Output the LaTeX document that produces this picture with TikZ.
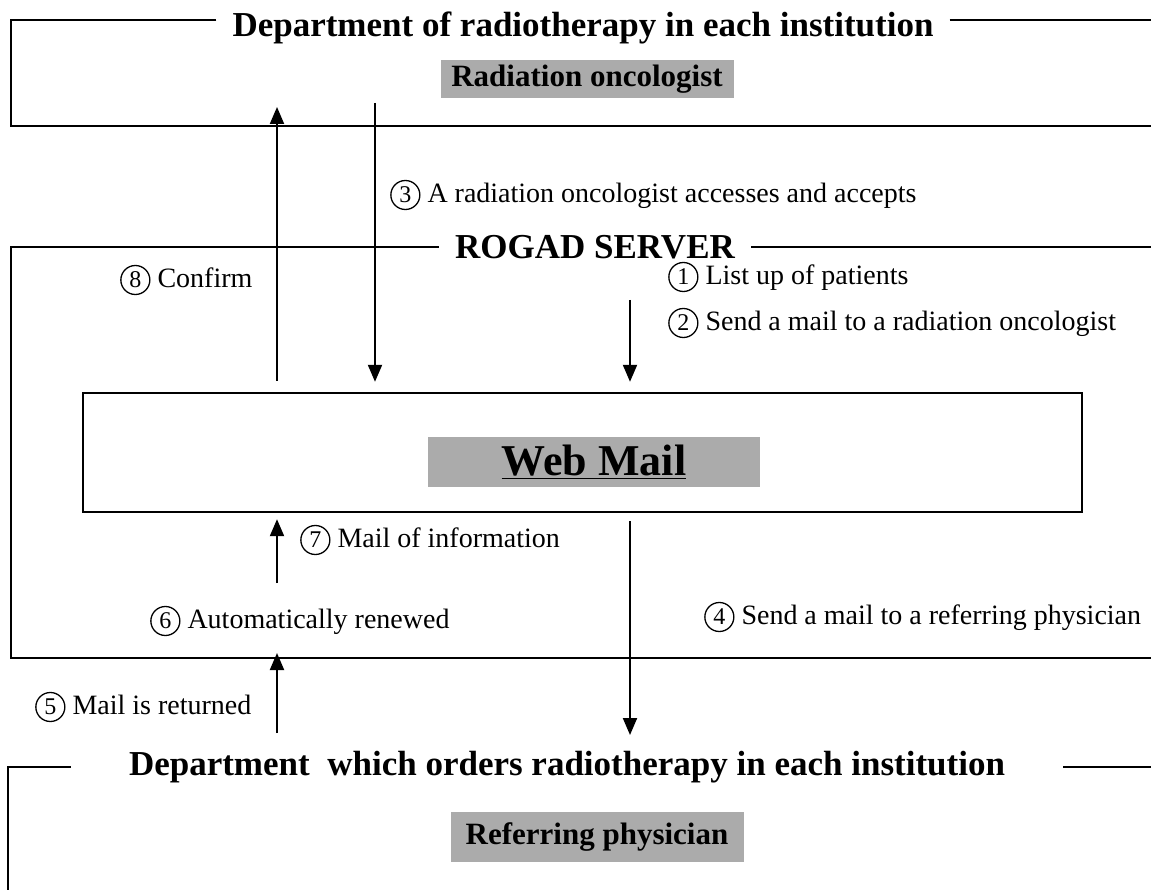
\documentclass[tikz,border=0pt]{standalone}
\usepackage{fontspec}
\setmainfont{Liberation Serif}
\usetikzlibrary{arrows.meta}
\newcommand{\cnum}[1]{\tikz[baseline=(cn.base)]\node[circle,draw,line width=1.3pt,inner sep=0pt,minimum size=29pt,anchor=base,fill=none,font=\fontsize{24}{24}\selectfont] (cn) {#1};}
\begin{document}
\begin{tikzpicture}[x=1pt,y=-1pt,
  frame/.style={line width=2.4pt},
  flow/.style={line width=2pt,-{Triangle[length=17pt,width=14pt]}},
  head/.style={font=\fontsize{35}{40}\selectfont\bfseries,anchor=base,inner ysep=0pt,inner xsep=16pt},
  tag/.style={fill=black!33,font=\fontsize{31}{36}\selectfont\bfseries,inner sep=0pt,minimum width=293pt},
  lbl/.style={font=\fontsize{28}{32}\selectfont,anchor=west,inner sep=0pt}]
\useasboundingbox (0,0) rectangle (1151,890);
\node[head] (depttop) at (583,37) {Department of radiotherapy in each institution};
\coordinate (tl) at (11,20);
\draw[frame] (depttop.west |- tl) -- (tl) -- (11,126) -- (1160,126);
\draw[frame] (depttop.east |- tl) -- (1160,20);
\node[tag,minimum height=38pt] (radonc) at (587,79) {Radiation oncologist};
\node[head] (rogad) at (595,259) {ROGAD SERVER};
\coordinate (sl) at (11,247);
\draw[frame] (rogad.west |- sl) -- (sl) -- (11,658) -- (1160,658);
\draw[frame] (rogad.east |- sl) -- (1160,247);
\node[draw,frame,minimum width=999pt,minimum height=119pt] (webmail) at (582.5,452.5) {};
\node[tag,minimum width=332pt,minimum height=50pt,font=\fontsize{44}{50}\selectfont\bfseries] (wmtag) at (594,462) {\underline{Web Mail}};
\node[head,inner xsep=58pt] (deptbot) at (567,775) {Department\ \ which orders radiotherapy in each institution};
\coordinate (bl) at (8,767);
\draw[frame] (deptbot.west |- bl) -- (bl) -- (8,900);
\draw[frame] (deptbot.east |- bl) -- (1160,767);
\node[tag,minimum height=50pt] (refphys) at (597,837) {Referring physician};
\coordinate (c8) at (277,107);
\coordinate (c3) at (375,103);
\coordinate (c1) at (630,300);
\coordinate (c7) at (277,583);
\coordinate (c4) at (630,735);
\coordinate (c5) at (277,733);
\coordinate (c5t) at (277,653);
\draw[flow,shorten <=11pt] (webmail.north -| c8) -- (c8);
\draw[flow,shorten >=10pt] (c3) -- (webmail.north -| c3);
\draw[flow,shorten >=10pt] (c1) -- (webmail.north -| c1);
\draw[flow,shorten >=6pt] (c7) -- (webmail.south -| c7);
\draw[flow,shorten <=8pt] (webmail.south -| c4) -- (c4);
\draw[flow] (c5) -- (c5t);
\node[lbl] (l3) at (390,195) {\cnum{3} A radiation oncologist accesses and accepts};
\node[lbl] (l1) at (668,277) {\cnum{1} List up of patients};
\node[lbl] (l2) at (668,323) {\cnum{2} Send a mail to a radiation oncologist};
\node[lbl] (l8) at (120,280) {\cnum{8} Confirm};
\node[lbl] (l7) at (300,540) {\cnum{7} Mail of information};
\node[lbl] (l6) at (150,621) {\cnum{6} Automatically renewed};
\node[lbl] (l4) at (704,617) {\cnum{4} Send a mail to a referring physician};
\node[lbl] (l5) at (35,707) {\cnum{5} Mail is returned};
\end{tikzpicture}
\end{document}
